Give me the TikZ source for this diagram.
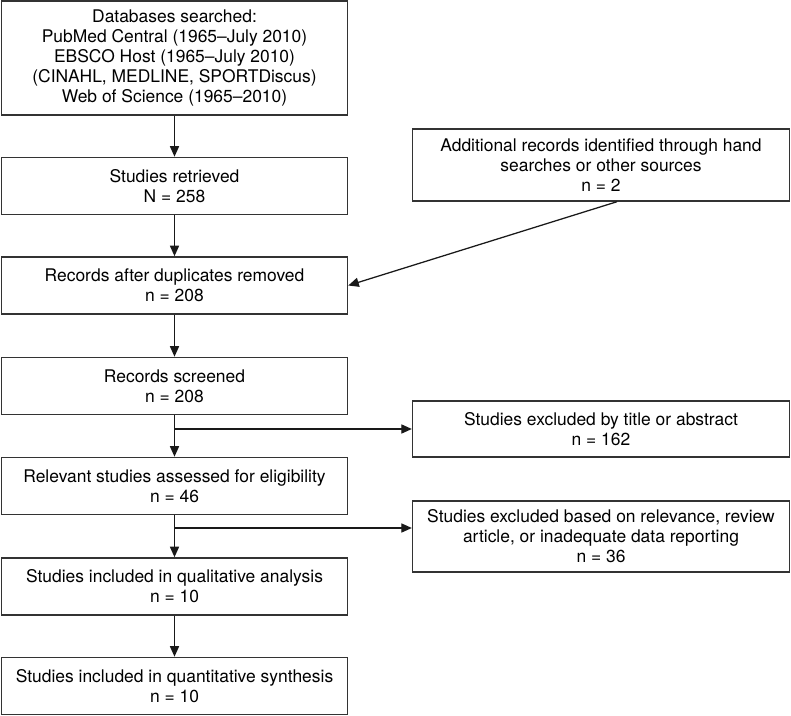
\documentclass[tikz,border=0pt]{standalone}
\usepackage{fontspec}
\setmainfont{TeX Gyre Heros}
\usetikzlibrary{arrows.meta}
\begin{document}
\begin{tikzpicture}[
    x=0.025cm, y=-0.025cm,
    every node/.style={draw=black!80, line width=1pt, align=center, inner sep=0pt,
      font=\fontsize{12.4}{14.2}\selectfont},
    leftbox/.style={minimum width=8.65cm, minimum height=1.43cm},
    rightbox/.style={minimum width=9.42cm},
    flow/.style={draw=black!90, line width=0.9pt, -{Triangle[length=7.5pt,width=6.5pt]}}]

  \useasboundingbox (0,0) rectangle (791,716);

  % main column
  \node[leftbox, minimum height=2.85cm] (db) at (174.5,58) {Databases searched:\\PubMed Central (1965--July 2010)\\EBSCO Host (1965--July 2010)\\(CINAHL, MEDLINE, SPORTDiscus)\\Web of Science (1965--2010)};
  \node[leftbox] (retrieved) at (174.5,186) {Studies retrieved\\N = 258};
  \node[leftbox] (dedup) at (174.5,285.5) {Records after duplicates removed\\n = 208};
  \node[leftbox] (screened) at (174.5,386) {Records screened\\n = 208};
  \node[leftbox] (eligible) at (174.5,486) {Relevant studies assessed for eligibility\\n = 46};
  \node[leftbox] (qual) at (174.5,586.5) {Studies included in qualitative analysis\\n = 10};
  \node[leftbox] (quant) at (174.5,686) {Studies included in quantitative synthesis\\n = 10};

  % side boxes
  \node[rightbox, minimum height=1.8cm] (extra) at (601,165) {Additional records identified through hand\\searches or other sources\\n = 2};
  \node[rightbox, minimum height=1.4cm] (excltitle) at (601,429) {Studies excluded by title or abstract\\n = 162};
  \node[rightbox, minimum height=1.775cm] (exclrel) at (601,536.5) {Studies excluded based on relevance, review\\article, or inadequate data reporting\\n = 36};

  \draw[flow] (db) -- (retrieved);
  \draw[flow] (retrieved) -- (dedup);
  \draw[flow] (dedup) -- (screened);
  \draw[flow] (screened) -- (eligible);
  \draw[flow] (eligible) -- (qual);
  \draw[flow] (qual) -- (quant);

  \draw[flow] ([xshift=0.4cm]extra.south) -- (dedup.east);
  \draw[flow] (screened.south |- excltitle.west) -- (excltitle.west);
  \coordinate (split) at (174.5,528);
  \draw[flow] (split) -- (split -| exclrel.west);
\end{tikzpicture}
\end{document}
